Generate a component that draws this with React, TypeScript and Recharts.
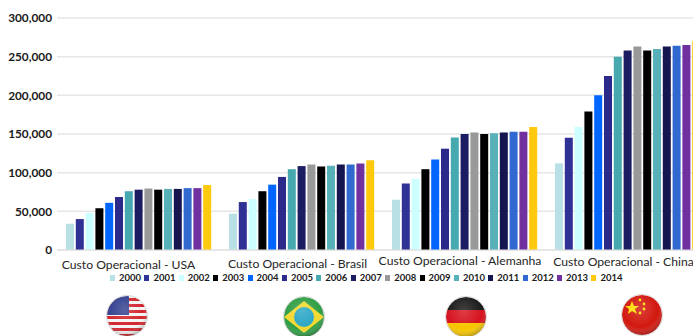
import { BarChart, Bar, XAxis, YAxis, CartesianGrid, Legend } from "recharts";

const regions = [
  "Custo Operacional - USA",
  "Custo Operacional - Brasil",
  "Custo Operacional - Alemanha",
  "Custo Operacional - China",
];
const years = ["2000", "2001", "2002", "2003", "2004", "2005", "2006", "2007", "2008", "2009", "2010", "2011", "2012", "2013", "2014"];
const yearColors = ["#b9e0e4", "#2f3194", "#ccffff", "#000000", "#0066ff", "#2b2a8a", "#47a9b0", "#1c1c63", "#999999", "#000000", "#58b0b8", "#15154f", "#3069cf", "#7030a0", "#ffc90e"];

const custoUsa = [34000, 40000, 48000, 54000, 61000, 68500, 76000, 78000, 79500, 78000, 79000, 79000, 80000, 80000, 84000];
const custoBrasil = [47000, 62000, 66000, 76000, 84500, 94500, 104500, 108500, 110500, 108000, 109000, 110500, 110500, 112000, 116000];
const custoAlemanha = [65000, 86000, 92000, 104500, 117000, 131000, 145500, 150000, 152000, 150000, 151000, 152000, 153000, 153000, 159000];
const custoChina = [112000, 145000, 159000, 179000, 200000, 225000, 250000, 258000, 263000, 258000, 260000, 263000, 264000, 265000, 270000];

const yTicks = [0, 50000, 100000, 150000, 200000, 250000, 300000];

const byRegion = [custoUsa, custoBrasil, custoAlemanha, custoChina];
const rows = regions.map((name, r) => {
  const row: Record<string, string | number> = { name };
  years.forEach((y, i) => {
    row[y] = byRegion[r][i];
  });
  return row;
});

// the region captions don't sit centred under their groups
const captionShift = [
  { dx: -10, y: 269 },
  { dx: -4, y: 268 },
  { dx: -4.5, y: 265 },
  { dx: -4, y: 266 },
];

function RegionTick({ x, index, payload }: any) {
  const s = captionShift[index] ?? { dx: 0, y: 268 };
  return (
    <text x={x + s.dx} y={s.y} textAnchor="middle" fontFamily="Lato" fontSize={12.2} fill="#262626">
      {payload.value}
    </text>
  );
}

function YearLegend({ payload }: any) {
  return (
    <div style={{ display: "flex", fontFamily: "Lato", fontWeight: 700, fontSize: 9.5, color: "#1a1a1a" }}>
      {(payload ?? []).map((p: any) => (
        <div key={p.value} style={{ width: 34.4, display: "flex", alignItems: "center", gap: 4, flex: "none" }}>
          <span style={{ width: 5, height: 6, background: p.color, flex: "none" }} />
          <span>{p.value}</span>
        </div>
      ))}
    </div>
  );
}

function Globe({ id, cx, cy, children }: { id: string; cx: number; cy: number; children: React.ReactNode }) {
  const r = 20;
  return (
    <g>
      <clipPath id={id}>
        <circle cx={cx} cy={cy} r={r} />
      </clipPath>
      <g clipPath={`url(#${id})`}>{children}</g>
      <circle cx={cx} cy={cy} r={r} fill="url(#gloss)" />
      <circle cx={cx} cy={cy} r={r + 0.5} fill="none" stroke="#d8d8d8" />
    </g>
  );
}

const usaStripes = [0, 1, 2, 3, 4, 5, 6];

function Flags() {
  return (
    <svg width={693} height={336} style={{ position: "absolute", left: 0, top: 0, pointerEvents: "none" }}>
      <defs>
        <radialGradient id="gloss" cx="45%" cy="35%" r="70%">
          <stop offset="0%" stopColor="#ffffff" stopOpacity={0.18} />
          <stop offset="65%" stopColor="#ffffff" stopOpacity={0} />
          <stop offset="100%" stopColor="#000000" stopOpacity={0.4} />
        </radialGradient>
      </defs>
      <Globe id="flag-usa" cx={127} cy={316}>
        <rect x={107} y={296} width={40} height={40} fill="#f4f4f4" />
        {usaStripes.map((i) => (
          <rect key={i} x={107} y={298 + i * 6} width={40} height={3} fill="#d3262e" />
        ))}
        <rect x={107} y={296} width={22} height={19} fill="#33408f" />
      </Globe>
      <Globe id="flag-brasil" cx={304} cy={317}>
        <rect x={284} y={297} width={40} height={40} fill="#2f9e44" />
        <polygon points="304,301 324,317 304,333 284,317" fill="#f2d82f" />
        <circle cx={304} cy={317} r={10} fill="#27a5c4" />
      </Globe>
      <Globe id="flag-alemanha" cx={466} cy={317}>
        <rect x={446} y={297} width={40} height={13} fill="#1a1a1a" />
        <rect x={446} y={310} width={40} height={13} fill="#d5121e" />
        <rect x={446} y={323} width={40} height={14} fill="#f7c600" />
      </Globe>
      <Globe id="flag-china" cx={642} cy={315}>
        <rect x={622} y={295} width={40} height={40} fill="#d2180f" />
        <polygon points="632,301 634,306 639,306 635,309 637,314 632,311 628,314 629,309 625,306 630,306" fill="#ffdf00" />
        <circle cx={640} cy={300} r={1.4} fill="#ffdf00" />
        <circle cx={644} cy={304} r={1.4} fill="#ffdf00" />
        <circle cx={644} cy={309} r={1.4} fill="#ffdf00" />
        <circle cx={640} cy={313} r={1.4} fill="#ffdf00" />
      </Globe>
    </svg>
  );
}

export default function App() {
  return (
    <div style={{ position: "absolute", left: 0, top: 0, width: 693, height: 336, overflow: "hidden", background: "#fff" }}>
      <BarChart
        width={720}
        height={336}
        data={rows}
        margin={{ top: 18, right: 11, left: 0, bottom: 56 }}
        barSize={8}
        barGap={1.8}
      >
        <CartesianGrid vertical={false} stroke="#e6e6e6" strokeWidth={1.5} />
        <XAxis dataKey="name" height={30} axisLine={{ stroke: "#e0e0e0" }} tickLine={false} tick={<RegionTick />} interval={0} />
        <YAxis
          width={57}
          domain={[0, 300000]}
          ticks={yTicks}
          axisLine={false}
          tickLine={false}
          tickSize={5}
          tickMargin={0}
          tick={{ fontFamily: "Lato", fontWeight: 700, fontSize: 11.8, fill: "#1a1a1a" }}
          tickFormatter={(v: number) => v.toLocaleString("en-US")}
        />
        <Legend
          layout="horizontal"
          verticalAlign="middle"
          wrapperStyle={{ left: 110, top: 272, width: 530 }}
          content={<YearLegend />}
        />
        {years.map((y, i) => (
          <Bar key={y} dataKey={y} name={y} fill={yearColors[i]} isAnimationActive={false} />
        ))}
      </BarChart>
      <Flags />
    </div>
  );
}
